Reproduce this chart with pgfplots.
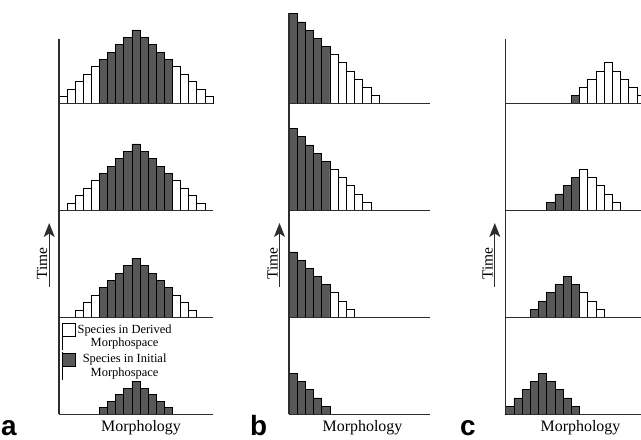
\documentclass[border=0pt]{standalone}
\usepackage{fontspec}
\setmainfont{Liberation Serif}
\newfontfamily\labfont{Liberation Sans}
\usepackage{pgfplots}
\pgfplotsset{compat=1.18}
\usetikzlibrary{arrows.meta}
\definecolor{darkbar}{RGB}{88,88,88}
\definecolor{axc}{RGB}{45,45,45}
\pgfplotsset{
  row/.style={scale only axis, anchor=south west, axis x line=bottom, axis y line=left,
    axis line style={-, line width=1.4bp, draw=axc}, ticks=none, xmin=0, ymin=0,
    clip=false, axis on top},
  wb/.style={ybar, bar width=1, bar shift=0pt, fill=white, draw=black, line width=0.7bp},
  db/.style={ybar, bar width=1, bar shift=0pt, fill=darkbar, draw=black, line width=0.7bp},
}
\begin{document}
\begin{tikzpicture}
\path[use as bounding box] (0,0) rectangle (641bp,440bp);
% ---------------- Panel a ----------------
\begin{axis}[row, at={(59bp,336.3bp)}, width=154bp, height=64.7bp, xmax=19, ymax=8.77]
\addplot[wb] coordinates {(0.5,1) (1.5,2) (2.5,3) (3.5,4) (4.5,5) (14.5,5) (15.5,4) (16.5,3) (17.5,2) (18.5,1)};
\addplot[db] coordinates {(5.5,6) (6.5,7) (7.5,8) (8.5,9) (9.5,10) (10.5,9) (11.5,8) (12.5,7) (13.5,6)};
\end{axis}
\begin{axis}[row, at={(59bp,229.7bp)}, width=154bp, height=106.6bp, xmax=19, ymax=14.45]
\addplot[wb] coordinates {(1.5,1) (2.5,2) (3.5,3) (4.5,4) (14.5,4) (15.5,3) (16.5,2) (17.5,1)};
\addplot[db] coordinates {(5.5,5) (6.5,6) (7.5,7) (8.5,8) (9.5,9) (10.5,8) (11.5,7) (12.5,6) (13.5,5)};
\end{axis}
\begin{axis}[row, at={(59bp,122.7bp)}, width=154bp, height=107bp, xmax=19, ymax=14.5]
\addplot[wb] coordinates {(2.5,1) (3.5,2) (4.5,3) (14.5,3) (15.5,2) (16.5,1)};
\addplot[db] coordinates {(5.5,4) (6.5,5) (7.5,6) (8.5,7) (9.5,8) (10.5,7) (11.5,6) (12.5,5) (13.5,4)};
\end{axis}
\begin{axis}[row, at={(59bp,25.7bp)}, width=154bp, height=97bp, xmax=19, ymax=14.9,
  legend style={at={(rel axis cs:0.02,0.945)}, anchor=north west, draw=none, fill=none,
    inner sep=0pt, outer sep=0pt, row sep=1.6bp, column sep=1.5bp,
    font=\fontsize{12.5}{13.7}\selectfont, cells={align=center},
    nodes={inner sep=0.3bp}},
  legend image code/.code={\path (0bp,-13.6bp) -- (0bp,13.6bp);
     \draw[#1] (0bp,0.2bp) rectangle (13bp,13.2bp);}]
\addlegendimage{fill=white, draw=black, line width=0.7bp}
\addlegendentry{Species in Derived\\Morphospace}
\addlegendimage{fill=darkbar, draw=black, line width=0.7bp}
\addlegendentry{Species in Initial\\Morphospace}
\addplot[db, forget plot] coordinates {(5.5,1) (6.5,2) (7.5,3) (8.5,4) (9.5,5) (10.5,4) (11.5,3) (12.5,2) (13.5,1)};
\end{axis}
% ---------------- Panel b ----------------
\begin{axis}[row, at={(289bp,336.3bp)}, width=141bp, height=90.7bp, xmax=17.2, ymax=11.1]
\addplot[db] coordinates {(0.5,11) (1.5,10) (2.5,9) (3.5,8) (4.5,7)};
\addplot[wb] coordinates {(5.5,6) (6.5,5) (7.5,4) (8.5,3) (9.5,2) (10.5,1)};
\end{axis}
\begin{axis}[row, at={(289bp,229.7bp)}, width=141bp, height=106.6bp, xmax=17.2, ymax=13.05]
\addplot[db] coordinates {(0.5,10) (1.5,9) (2.5,8) (3.5,7) (4.5,6)};
\addplot[wb] coordinates {(5.5,5) (6.5,4) (7.5,3) (8.5,2) (9.5,1)};
\end{axis}
\begin{axis}[row, at={(289bp,122.7bp)}, width=141bp, height=107bp, xmax=17.2, ymax=13.1]
\addplot[db] coordinates {(0.5,8) (1.5,7) (2.5,6) (3.5,5) (4.5,4)};
\addplot[wb] coordinates {(5.5,3) (6.5,2) (7.5,1)};
\end{axis}
\begin{axis}[row, at={(289bp,25.7bp)}, width=141bp, height=97bp, xmax=17.2, ymax=11.8]
\addplot[db] coordinates {(0.5,5) (1.5,4) (2.5,3) (3.5,2) (4.5,1)};
\end{axis}
% ---------------- Panel c ----------------
\begin{axis}[row, at={(505.7bp,336.3bp)}, width=135.3bp, height=64.7bp, xmax=16.5, ymax=7.92]
\addplot[db] coordinates {(8.5,1)};
\addplot[wb] coordinates {(9.5,2) (10.5,3) (11.5,4) (12.5,5) (13.5,4) (14.5,3) (15.5,2) (16.5,1)};
\end{axis}
\begin{axis}[row, at={(505.7bp,229.7bp)}, width=135.3bp, height=106.6bp, xmax=16.5, ymax=13.05]
\addplot[db] coordinates {(5.5,1) (6.5,2) (7.5,3) (8.5,4)};
\addplot[wb] coordinates {(9.5,5) (10.5,4) (11.5,3) (12.5,2) (13.5,1)};
\end{axis}
\begin{axis}[row, at={(505.7bp,122.7bp)}, width=135.3bp, height=107bp, xmax=16.5, ymax=13.1]
\addplot[db] coordinates {(3.5,1) (4.5,2) (5.5,3) (6.5,4) (7.5,5) (8.5,4)};
\addplot[wb] coordinates {(9.5,3) (10.5,2) (11.5,1)};
\end{axis}
\begin{axis}[row, at={(505.7bp,25.7bp)}, width=135.3bp, height=97bp, xmax=16.5, ymax=11.8]
\addplot[db] coordinates {(0.5,1) (1.5,2) (2.5,3) (3.5,4) (4.5,5) (5.5,4) (6.5,3) (7.5,2) (8.5,1)};
\end{axis}
% ---------------- Labels ----------------
\foreach \xt/\xa in {47/49.2, 277.5/279.5, 492.5/494.8}{
  \node[rotate=90, anchor=base, inner sep=0pt, font=\fontsize{15.5}{16}\selectfont] at (\xt bp,176.5bp) {Time};
  \draw[axc, line width=1.2bp, -{Stealth[length=14bp,width=11bp,inset=3.5bp]}] (\xa bp,153bp) -- (\xa bp,217bp);
}
\foreach \xm in {141, 362.5, 580.5}{
  \node[anchor=base, inner sep=0pt, font=\fontsize{16}{16}\selectfont] at (\xm bp,8.3bp) {Morphology};
}
\node[anchor=base west, inner sep=0pt, font=\labfont\bfseries\fontsize{28}{28}\selectfont] at (1bp,5bp) {a};
\node[anchor=base west, inner sep=0pt, font=\labfont\bfseries\fontsize{28}{28}\selectfont] at (250bp,5bp) {b};
\node[anchor=base west, inner sep=0pt, font=\labfont\bfseries\fontsize{28}{28}\selectfont] at (460bp,5bp) {c};
\end{tikzpicture}
\end{document}
